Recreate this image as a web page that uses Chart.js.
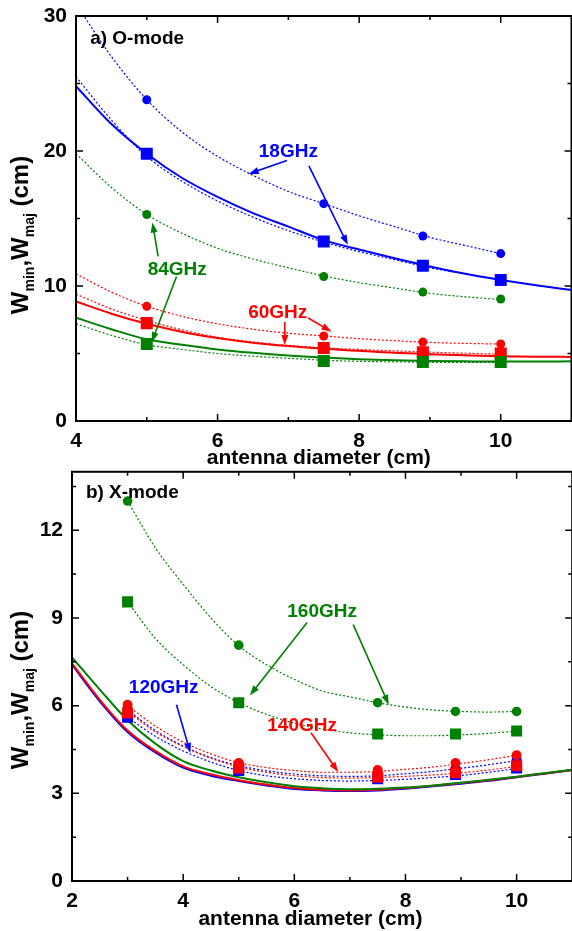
<!DOCTYPE html>
<html>
<head>
<meta charset="utf-8">
<script src="https://cdn.jsdelivr.net/npm/chart.js@4.4.0/dist/chart.umd.min.js"></script>
<style>
  html, body { margin: 0; padding: 0; background: #fff; width: 572px; height: 931px; overflow: hidden; }
  canvas { display: block; }
  #xMode { margin-top: -6px; }
</style>
</head>
<body>
<canvas id="oMode" width="580" height="470"></canvas>
<canvas id="xMode" width="580" height="467"></canvas>
<script>
const FONT = 'Liberation Sans, Arial, sans-serif';
const BLUE = '#0000ff', RED = '#ff0000', GREEN = '#008000';

// ---------- a) O-mode ----------
const oTicksX = [4, 6, 8, 10];
const oTicksY = [0, 10, 20, 30];
const oMinorX = [5, 7, 9];
const oMinorY = [5, 15, 25];

const oMeasX = [5, 7.5, 8.9, 10];
const o18Circ = [23.8, 16.1, 13.7, 12.4];
const o18Sq = [19.8, 13.3, 11.5, 10.45];
const o60Circ = [8.5, 6.3, 5.85, 5.7];
const o60Sq = [7.25, 5.4, 5.1, 5.0];
const o84Circ = [15.3, 10.7, 9.55, 9.04];
const o84Sq = [5.7, 4.44, 4.37, 4.37];

// theory (solid) and fits (dotted)
const oSolidX = [4, 4.5, 5, 5.5, 6, 6.5, 7, 7.5, 8, 8.5, 9, 9.5, 10, 10.5, 11];
const o18Solid = [24.8, 22.0, 19.8, 18.0, 16.6, 15.4, 14.4, 13.4, 12.7, 12.05, 11.45, 10.9, 10.45, 10.05, 9.7];
const o60Solid = [8.85, 7.95, 7.2, 6.6, 6.15, 5.8, 5.55, 5.35, 5.2, 5.05, 4.95, 4.87, 4.8, 4.76, 4.75];
const o84Solid = [7.65, 6.8, 6.05, 5.65, 5.3, 5.05, 4.85, 4.7, 4.58, 4.5, 4.45, 4.42, 4.4, 4.4, 4.42];

const oFitX = [4, 4.5, 5, 5.5, 6, 6.5, 7, 7.5, 8, 8.5, 9, 9.5, 10];
const o18FitCirc = [30.9, 27.0, 23.8, 21.4, 19.6, 18.2, 17.0, 16.1, 15.2, 14.4, 13.6, 13.0, 12.4];
const o18FitSq = [25.5, 22.3, 19.6, 17.75, 16.3, 15.1, 14.1, 13.25, 12.55, 11.95, 11.35, 10.9, 10.45];
const o60FitCirc = [10.9, 9.55, 8.5, 7.75, 7.2, 6.8, 6.5, 6.3, 6.1, 5.95, 5.82, 5.75, 5.7];
const o60FitSq = [9.4, 8.3, 7.45, 6.75, 6.2, 5.85, 5.6, 5.42, 5.3, 5.2, 5.1, 5.02, 4.95];
const o84FitCirc = [19.8, 17.3, 15.3, 13.9, 12.8, 12.0, 11.35, 10.75, 10.25, 9.85, 9.45, 9.2, 9.0];
const o84FitSq = [7.2, 6.35, 5.65, 5.3, 5.0, 4.8, 4.65, 4.5, 4.42, 4.38, 4.35, 4.34, 4.35];

// ---------- b) X-mode ----------
const xTicksX = [2, 4, 6, 8, 10];
const xTicksY = [0, 3, 6, 9, 12];
const xMinorX = [3, 5, 7, 9];
const xMinorY = [1.5, 4.5, 7.5, 10.5, 13.5];

const xMeasX = [3, 5, 7.5, 8.9, 10];
const x120Circ = [5.9, 3.95, 3.65, 3.85, 4.15];
const x120Sq = [5.6, 3.78, 3.5, 3.64, 3.87];
const x140Circ = [6.03, 4.04, 3.8, 4.04, 4.3];
const x140Sq = [5.75, 3.87, 3.56, 3.7, 3.94];
const x160Circ = [13.0, 8.07, 6.1, 5.8, 5.8];
const x160Sq = [9.55, 6.1, 5.03, 5.03, 5.13];

const xSolidX = [2, 2.5, 3, 3.5, 4, 4.5, 5, 5.5, 6, 6.5, 7, 7.5, 8, 8.5, 9, 9.5, 10, 10.5, 11];
const x120Solid = [7.4, 6.15, 5.1, 4.4, 3.88, 3.6, 3.42, 3.27, 3.15, 3.1, 3.08, 3.1, 3.16, 3.24, 3.33, 3.43, 3.55, 3.67, 3.8];
const x140Solid = [7.45, 6.2, 5.15, 4.45, 3.92, 3.65, 3.45, 3.3, 3.18, 3.12, 3.1, 3.12, 3.18, 3.26, 3.35, 3.45, 3.56, 3.68, 3.8];
const x160Solid = [7.65, 6.55, 5.5, 4.7, 4.1, 3.78, 3.55, 3.38, 3.24, 3.17, 3.14, 3.16, 3.2, 3.27, 3.36, 3.46, 3.57, 3.69, 3.81];

const xFitX = [3, 3.5, 4, 4.5, 5, 5.5, 6, 6.5, 7, 7.5, 8, 8.5, 9, 9.5, 10];
const x120FitCirc = [5.85, 5.15, 4.62, 4.22, 3.95, 3.77, 3.66, 3.6, 3.58, 3.6, 3.67, 3.75, 3.86, 3.98, 4.12];
const x120FitSq = [5.6, 4.95, 4.45, 4.07, 3.78, 3.6, 3.5, 3.44, 3.42, 3.44, 3.48, 3.54, 3.61, 3.72, 3.85];
const x140FitCirc = [6.0, 5.3, 4.75, 4.35, 4.05, 3.88, 3.78, 3.72, 3.72, 3.75, 3.82, 3.9, 4.02, 4.15, 4.3];
const x140FitSq = [5.8, 5.1, 4.6, 4.2, 3.9, 3.72, 3.6, 3.54, 3.52, 3.54, 3.58, 3.63, 3.7, 3.8, 3.92];
const x160FitCirc = [13.0, 11.4, 10.15, 9.0, 8.05, 7.4, 6.9, 6.5, 6.3, 6.1, 5.95, 5.85, 5.8, 5.78, 5.8];
const x160FitSq = [9.55, 8.3, 7.4, 6.65, 6.1, 5.7, 5.4, 5.2, 5.07, 5.0, 4.97, 4.97, 5.0, 5.05, 5.13];

function pts(xs, ys) {
  return xs.map((x, i) => ({ x: x, y: ys[i] }));
}

function curve(xs, ys, color, dotted) {
  return {
    data: pts(xs, ys),
    borderColor: color,
    borderWidth: dotted ? 1.2 : 2,
    borderDash: dotted ? [2, 2] : [],
    pointRadius: 0,
    fill: false,
    showLine: true,
    cubicInterpolationMode: 'monotone',
  };
}

function marks(xs, ys, color, style, r) {
  return {
    data: pts(xs, ys),
    showLine: false,
    pointStyle: style,
    pointRadius: r,
    backgroundColor: color,
    borderColor: color,
    borderWidth: 0,
  };
}

function arrow(ctx, x1, y1, x2, y2, color) {
  const a = Math.atan2(y2 - y1, x2 - x1);
  const head = 10, half = 3.5;
  ctx.strokeStyle = color;
  ctx.fillStyle = color;
  ctx.lineWidth = 1.6;
  ctx.setLineDash([]);
  ctx.beginPath();
  ctx.moveTo(x1, y1);
  ctx.lineTo(x2 - head * 0.7 * Math.cos(a), y2 - head * 0.7 * Math.sin(a));
  ctx.stroke();
  ctx.beginPath();
  ctx.moveTo(x2, y2);
  ctx.lineTo(x2 - head * Math.cos(a) + half * Math.sin(a), y2 - head * Math.sin(a) - half * Math.cos(a));
  ctx.lineTo(x2 - head * Math.cos(a) - half * Math.sin(a), y2 - head * Math.sin(a) + half * Math.cos(a));
  ctx.closePath();
  ctx.fill();
}

function yTitle(ctx, cx, cy) {
  const parts = [['W', 24, 0], ['min', 14, 6], [',', 24, 0], ['W', 24, 0], ['maj', 14, 6], [' (cm)', 24, 0]];
  ctx.save();
  ctx.translate(cx, cy);
  ctx.rotate(-Math.PI / 2);
  ctx.fillStyle = '#000';
  ctx.textBaseline = 'alphabetic';
  ctx.textAlign = 'left';
  let total = 0;
  parts.forEach(p => { ctx.font = 'bold ' + p[1] + 'px ' + FONT; total += ctx.measureText(p[0]).width; });
  let x = -total / 2;
  parts.forEach(p => {
    ctx.font = 'bold ' + p[1] + 'px ' + FONT;
    ctx.fillText(p[0], x, p[2]);
    x += ctx.measureText(p[0]).width;
  });
  ctx.restore();
}

// frame, inward ticks, labels, arrows and axis titles
function decor(cfg) {
  return {
    id: 'decor',
    afterDatasetsDraw(chart) {
      const ctx = chart.ctx, sx = chart.scales.x, sy = chart.scales.y, a = chart.chartArea;
      ctx.save();
      ctx.setLineDash([]);
      ctx.strokeStyle = '#000';
      ctx.lineWidth = 1.5;
      const tx = (v, len) => {
        const p = sx.getPixelForValue(v);
        ctx.beginPath();
        ctx.moveTo(p, a.bottom); ctx.lineTo(p, a.bottom - len);
        ctx.moveTo(p, a.top); ctx.lineTo(p, a.top + len);
        ctx.stroke();
      };
      const ty = (v, len) => {
        const p = sy.getPixelForValue(v);
        ctx.beginPath();
        ctx.moveTo(a.left, p); ctx.lineTo(a.left + len, p);
        ctx.moveTo(a.right, p); ctx.lineTo(a.right - len, p);
        ctx.stroke();
      };
      cfg.majorX.forEach(v => tx(v, 7));
      cfg.minorX.forEach(v => tx(v, 4));
      cfg.majorY.forEach(v => ty(v, 7));
      cfg.minorY.forEach(v => ty(v, 4));
      ctx.lineWidth = 2;
      ctx.strokeRect(a.left, a.top, a.right - a.left, a.bottom - a.top);

      cfg.arrows.forEach(r => arrow(ctx,
        sx.getPixelForValue(r[0]), sy.getPixelForValue(r[1]),
        sx.getPixelForValue(r[2]), sy.getPixelForValue(r[3]), r[4]));

      ctx.textBaseline = 'middle';
      cfg.labels.forEach(l => {
        ctx.font = 'bold 19px ' + FONT;
        ctx.fillStyle = l[3];
        ctx.textAlign = l[4] || 'center';
        ctx.fillText(l[0], sx.getPixelForValue(l[1]), sy.getPixelForValue(l[2]));
      });

      ctx.font = 'bold 21px ' + FONT;
      ctx.fillStyle = '#000';
      ctx.textAlign = 'center';
      ctx.fillText('antenna diameter (cm)', sx.getPixelForValue(cfg.xTitle[0]), cfg.xTitle[1]);
      yTitle(ctx, 28, cfg.yTitleY);
      ctx.restore();
    }
  };
}

function makeChart(id, o) {
  const tickFont = { family: FONT, weight: 'bold', size: 21 };
  return new Chart(document.getElementById(id), {
    type: 'line',
    data: { datasets: o.datasets },
    options: {
      responsive: false,
      animation: false,
      events: [],
      layout: { padding: { top: o.padTop, right: o.padRight, left: 0, bottom: 0 } },
      plugins: { legend: { display: false }, tooltip: { enabled: false } },
      scales: {
        x: {
          type: 'linear', min: o.xMin, max: o.xMax,
          grid: { display: false, drawTicks: false },
          border: { display: false },
          ticks: { font: tickFont, color: '#000', padding: 8, maxRotation: 0, includeBounds: false },
          afterBuildTicks: s => { s.ticks = o.ticksX.map(v => ({ value: v })); },
          afterFit: s => { s.height = o.xHeight; s.paddingLeft = 0; s.paddingRight = 0; },
        },
        y: {
          type: 'linear', min: o.yMin, max: o.yMax,
          grid: { display: false, drawTicks: false },
          border: { display: false },
          ticks: { font: tickFont, color: '#000', padding: 9, includeBounds: false },
          afterBuildTicks: s => { s.ticks = o.ticksY.map(v => ({ value: v })); },
          afterFit: s => { s.width = o.yWidth; s.paddingTop = 0; s.paddingBottom = 0; },
        },
      },
    },
    plugins: [decor(o.decor)],
  });
}

// datasets are listed top-most first (Chart.js paints index 0 last)
makeChart('oMode', {
  xMin: 4, xMax: 11, yMin: 0, yMax: 30,
  ticksX: oTicksX, ticksY: oTicksY,
  padTop: 16, padRight: 5, xHeight: 49, yWidth: 76,
  datasets: [
    marks(oMeasX, o84Sq, GREEN, 'rect', 8.5),
    marks(oMeasX, o84Circ, GREEN, 'circle', 4.5),
    marks(oMeasX, o60Sq, RED, 'rect', 8.5),
    marks(oMeasX, o60Circ, RED, 'circle', 4.5),
    marks(oMeasX, o18Sq, BLUE, 'rect', 8.5),
    marks(oMeasX, o18Circ, BLUE, 'circle', 4.5),
    curve(oSolidX, o84Solid, GREEN, false),
    curve(oSolidX, o60Solid, RED, false),
    curve(oSolidX, o18Solid, BLUE, false),
    curve(oFitX, o84FitCirc, GREEN, true),
    curve(oFitX, o84FitSq, GREEN, true),
    curve(oFitX, o60FitCirc, RED, true),
    curve(oFitX, o60FitSq, RED, true),
    curve(oFitX, o18FitCirc, BLUE, true),
    curve(oFitX, o18FitSq, BLUE, true),
  ],
  decor: {
    majorX: oTicksX, minorX: oMinorX, majorY: oTicksY, minorY: oMinorY,
    xTitle: [7.43, 458], yTitleY: 235,
    labels: [
      ['a) O-mode', 4.2, 28.35, '#000', 'left'],
      ['18GHz', 7.0, 19.95, BLUE],
      ['84GHz', 5.43, 11.2, GREEN],
      ['60GHz', 6.85, 8.0, RED],
    ],
    arrows: [
      [6.98, 19.3, 6.44, 18.3, BLUE],
      [7.29, 18.9, 7.84, 13.05, BLUE],
      [5.16, 12.2, 5.08, 14.7, GREEN],
      [5.42, 10.7, 5.07, 5.85, GREEN],
      [6.95, 7.33, 6.95, 5.63, RED],
      [7.28, 7.63, 7.61, 6.62, RED],
    ],
  },
});

makeChart('xMode', {
  xMin: 2, xMax: 11, yMin: 0, yMax: 14,
  ticksX: xTicksX, ticksY: xTicksY,
  padTop: 2, padRight: 6, xHeight: 50, yWidth: 72,
  datasets: [
    marks(xMeasX, x160Sq, GREEN, 'rect', 7.8),
    marks(xMeasX, x160Circ, GREEN, 'circle', 4.8),
    marks(xMeasX, x140Circ, RED, 'circle', 5),
    marks(xMeasX, x140Sq, RED, 'rect', 7.8),
    marks(xMeasX, x120Circ, BLUE, 'circle', 5),
    marks(xMeasX, x120Sq, BLUE, 'rect', 7.8),
    curve(xSolidX, x160Solid, GREEN, false),
    curve(xSolidX, x140Solid, RED, false),
    curve(xSolidX, x120Solid, BLUE, false),
    curve(xFitX, x160FitCirc, GREEN, true),
    curve(xFitX, x160FitSq, GREEN, true),
    curve(xFitX, x140FitCirc, RED, true),
    curve(xFitX, x140FitSq, RED, true),
    curve(xFitX, x120FitCirc, BLUE, true),
    curve(xFitX, x120FitSq, BLUE, true),
  ],
  decor: {
    majorX: xTicksX, minorX: xMinorX, majorY: xTicksY, minorY: xMinorY,
    xTitle: [6.29, 455], yTitleY: 226,
    labels: [
      ['b) X-mode', 2.25, 13.29, '#000', 'left'],
      ['160GHz', 6.5, 9.21, GREEN],
      ['120GHz', 3.65, 6.6, BLUE],
      ['140GHz', 6.14, 5.3, RED],
    ],
    arrows: [
      [6.23, 8.84, 5.2, 6.35, GREEN],
      [7.06, 8.77, 7.7, 6.03, GREEN],
      [3.88, 6.03, 4.13, 4.38, BLUE],
      [6.3, 5.07, 6.79, 3.73, RED],
    ],
  },
});
</script>
</body>
</html>
